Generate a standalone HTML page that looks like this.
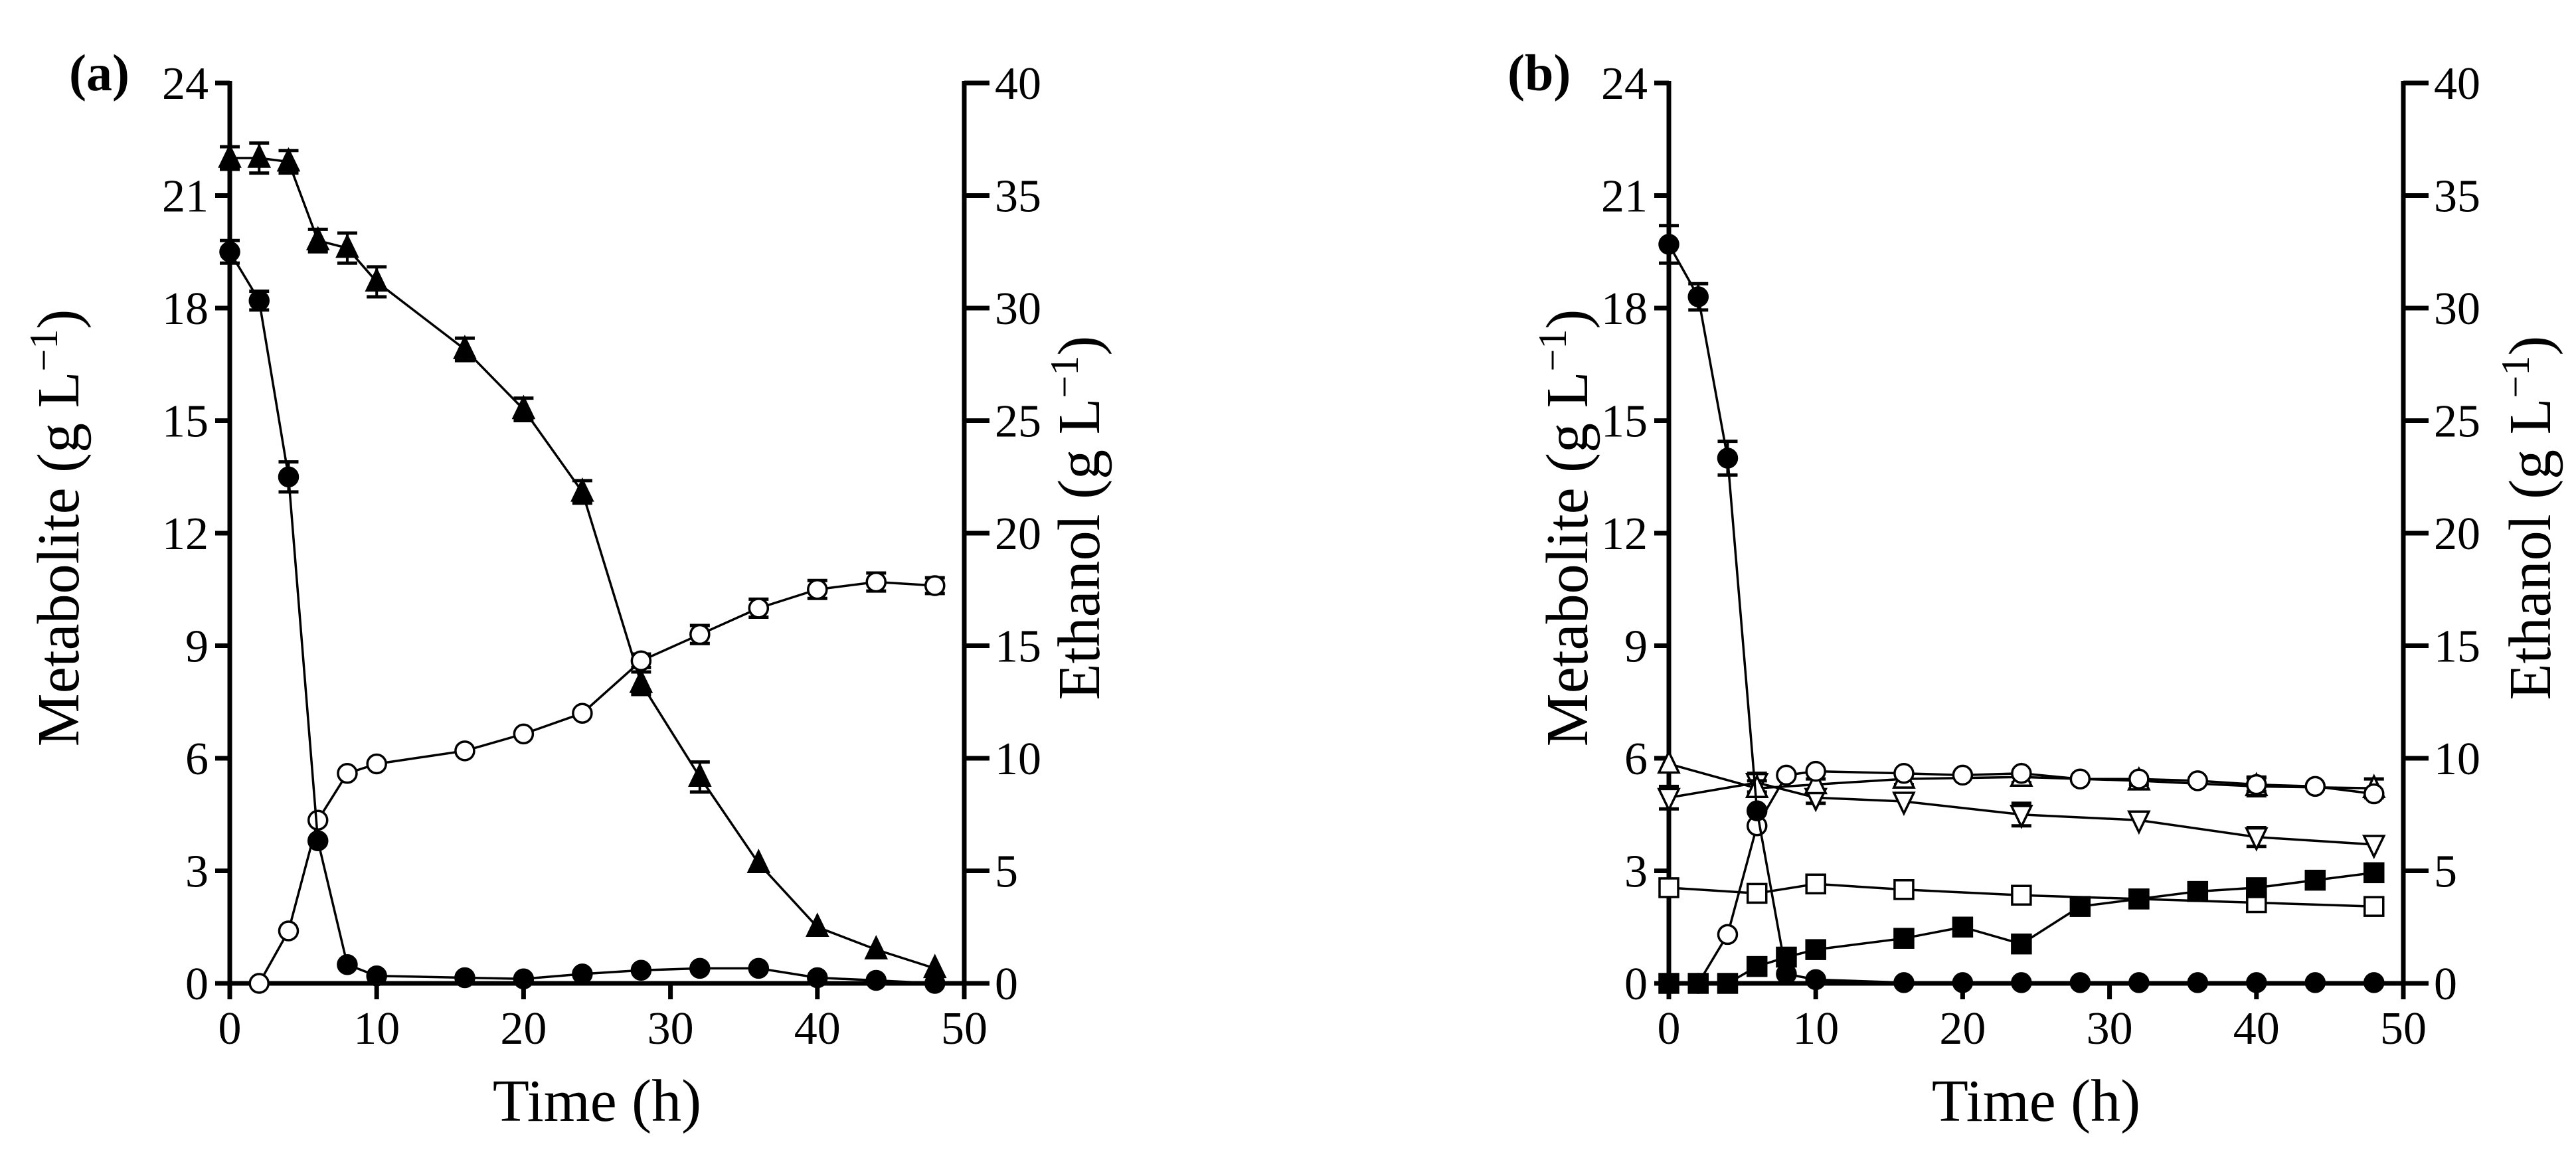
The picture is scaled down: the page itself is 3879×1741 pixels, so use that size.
<!DOCTYPE html>
<html><head><meta charset="utf-8"><style>
html,body{margin:0;padding:0;background:#fff;}
svg{display:block;font-family:"Liberation Serif","Times New Roman",serif;}
</style></head><body>
<svg id="fig" width="3879" height="1741" viewBox="0 0 3879 1741" xmlns="http://www.w3.org/2000/svg">
<g id="pa"></g>
<g id="pb"></g>
</svg>
<script>
const times = [0,2,4,6,8,10,16,20,24,28,32,36,40,44,48];
const leftTicks = [0,3,6,9,12,15,18,21,24];
const rightTicks = [0,5,10,15,20,25,30,35,40];
const xTicks = [0,10,20,30,40,50];
// Panel a (metabolite g/L, left axis)
const aTriT = times;
const aTri = [22.0,22.0,21.9,19.8,19.6,18.7,16.9,15.3,13.1,8.0,5.5,3.2,1.5,0.9,0.4];
const aTriErr = [0.3,0.4,0.3,0.3,0.4,0.4,0.3,0.3,0.3,0.3,0.4,0,0,0,0];
const aDotT = times;
const aDot = [19.5,18.2,13.5,3.8,0.5,0.2,0.15,0.12,0.25,0.35,0.4,0.4,0.15,0.08,0.0];
const aDotErr = [0.3,0.25,0.4,0,0,0,0,0,0,0,0,0,0,0,0];
// Panel a ethanol (g/L, right axis)
const aEthT = [2,4,6,8,10,16,20,24,28,32,36,40,44,48];
const aEth = [0,2.33,7.25,9.33,9.75,10.33,11.08,12.0,14.33,15.5,16.67,17.5,17.83,17.67];
const aEthErr = [0,0,0,0,0,0,0,0,0.3,0.4,0.4,0.4,0.4,0.35];
// Panel b
const bDotT = times;
const bDot = [19.7,18.3,14.0,4.6,0.25,0.1,0.02,0.02,0.02,0.02,0.02,0.02,0.02,0.02,0.02];
const bDotErr = [0.5,0.35,0.45,0,0,0,0,0,0,0,0,0,0,0,0];
const bEthT = [2,4,6,8,10,16,20,24,28,32,36,40,44,48];
const bEth = [0,2.17,7.0,9.25,9.42,9.33,9.25,9.33,9.08,9.08,9.0,8.83,8.75,8.42];
const bEthErr = [0,0,0,0,0,0,0,0,0,0,0,0.3,0,0];
const bUpT = [0,6,10,16,24,32,40,48];
const bUp = [5.85,5.2,5.3,5.45,5.5,5.4,5.25,5.2];
const bUpErr = [0,0.2,0.15,0.15,0.15,0.1,0.25,0.25];
const bDownT = [0,6,10,16,24,32,40,48];
const bDown = [4.95,5.35,4.95,4.85,4.5,4.35,3.9,3.7];
const bDownErr = [0.3,0.25,0.15,0,0.3,0,0.25,0];
const bSqT = [0,6,10,16,24,32,40,48];
const bSq = [2.55,2.4,2.65,2.5,2.35,2.25,2.15,2.05];
const bSqErr = [0,0,0,0,0,0,0,0];
const bFsqT = times;
const bFsq = [0,0,0,0.45,0.7,0.9,1.2,1.5,1.05,2.05,2.25,2.45,2.55,2.75,2.95];
const bFsqErr = [0,0,0,0,0,0,0,0,0,0,0,0,0,0,0];

const NS='http://www.w3.org/2000/svg';
function mk(parent,tag,attrs,text){const e=document.createElementNS(NS,tag);for(const k in attrs)e.setAttribute(k,attrs[k]);if(text!==undefined)e.textContent=text;parent.appendChild(e);return e;}

const Y0=1481, Y1=125, W=1106;
function drawPanel(g,x0,label,labelX,lTitleX,rTitleX,series){
  const xs=t=>x0+t/50*W, yl=v=>Y0-v/24*(Y0-Y1), yr=v=>Y0-v/40*(Y0-Y1);
  const ax=mk(g,'g',{});
  
  
  mk(ax,'line',{x1:x0,y1:Y0,x2:x0+W,y2:Y0,stroke:'#000','stroke-width':7});
  mk(ax,'line',{x1:x0,y1:Y0+3,x2:x0,y2:Y1-3,stroke:'#000','stroke-width':7});
  mk(ax,'line',{x1:x0+W,y1:Y0+3,x2:x0+W,y2:Y1-3,stroke:'#000','stroke-width':7});
  leftTicks.forEach(v=>{const y=yl(v);mk(ax,'line',{x1:x0-22,y1:y,x2:x0,y2:y,stroke:'#000','stroke-width':7});
    const t=mk(ax,'text',{x:x0-32,y:y+24,'font-size':70,'text-anchor':'end'},v);
    
    });
  rightTicks.forEach(v=>{const y=yr(v);mk(ax,'line',{x1:x0+W,y1:y,x2:x0+W+38,y2:y,stroke:'#000','stroke-width':7});
    const t=mk(ax,'text',{x:x0+W+46,y:y+24,'font-size':70},v);
    
    });
  xTicks.forEach(v=>{const x=xs(v);mk(ax,'line',{x1:x,y1:Y0,x2:x,y2:Y0+24,stroke:'#000','stroke-width':7});
    const t=mk(ax,'text',{x:x,y:1572,'font-size':70,'text-anchor':'middle'},v);
    
    });
  const pl=mk(g,'text',{x:labelX,y:136,'font-size':78,'font-weight':'bold'},label);
  
  
  const xt=mk(g,'text',{x:x0+W/2,y:1688,'font-size':90,'text-anchor':'middle'},'Time (h)');
  
  
  const lt=mk(g,'text',{x:0,y:0,'font-size':90,'text-anchor':'middle',transform:`translate(${lTitleX},795) rotate(-90)`});
  lt.innerHTML='Metabolite (g L<tspan dy="-32" font-size="60">−1</tspan><tspan dy="32">)</tspan>';
  
  
  const rt=mk(g,'text',{x:0,y:0,'font-size':90,'text-anchor':'middle',transform:`translate(${rTitleX},780) rotate(-90)`});
  rt.innerHTML='Ethanol (g L<tspan dy="-32" font-size="60">−1</tspan><tspan dy="32">)</tspan>';
  
  
  series.forEach(s=>{
    const sg=mk(g,'g',{});
    
    
    const yf=s.right?yr:yl;
    const pts=s.t.map((t,i)=>xs(t)+','+yf(s.v[i])).join(' ');
    mk(sg,'polyline',{points:pts,fill:'none',stroke:'#000','stroke-width':3.5});
    s.t.forEach((t,i)=>{
      const x=xs(t),y=yf(s.v[i]),e=s.e[i];
      if(e>0){const ya=yf(s.v[i]+e),yb=yf(s.v[i]-e);
        mk(sg,'line',{x1:x,y1:ya,x2:x,y2:yb,stroke:'#000','stroke-width':4});
        mk(sg,'line',{x1:x-15,y1:ya,x2:x+15,y2:ya,stroke:'#000','stroke-width':5});
        mk(sg,'line',{x1:x-15,y1:yb,x2:x+15,y2:yb,stroke:'#000','stroke-width':5});}
      let m;const f=s.fill?'#000':'#fff';
      if(s.shape==='circle') m=mk(sg,'circle',{cx:x,cy:y,r:14,fill:f,stroke:'#000','stroke-width':3.5});
      else if(s.shape==='square') m=mk(sg,'rect',{x:x-14,y:y-14,width:28,height:28,fill:f,stroke:'#000','stroke-width':3.5});
      else if(s.shape==='up') m=mk(sg,'polygon',{points:`${x},${y-18} ${x-15},${y+13} ${x+15},${y+13}`,fill:f,stroke:'#000','stroke-width':3.5});
      else m=mk(sg,'polygon',{points:`${x},${y+18} ${x-15},${y-13} ${x+15},${y-13}`,fill:f,stroke:'#000','stroke-width':3.5});
      
      
    });
  });
}
drawPanel(document.getElementById('pa'),346,'(a)',104,118,1655,[
  {name:'series-filled-triangle',t:aTriT,v:aTri,e:aTriErr,shape:'up',fill:true},
  {name:'series-ethanol-open-circle',t:aEthT,v:aEth,e:aEthErr,shape:'circle',fill:false,right:true},
  {name:'series-filled-circle',t:aDotT,v:aDot,e:aDotErr,shape:'circle',fill:true}
]);
drawPanel(document.getElementById('pb'),2513,'(b)',2270,2390,3840,[
  {name:'series-open-square',t:bSqT,v:bSq,e:bSqErr,shape:'square',fill:false},
  {name:'series-open-triangle-down',t:bDownT,v:bDown,e:bDownErr,shape:'down',fill:false},
  {name:'series-open-triangle-up',t:bUpT,v:bUp,e:bUpErr,shape:'up',fill:false},
  {name:'series-ethanol-open-circle',t:bEthT,v:bEth,e:bEthErr,shape:'circle',fill:false,right:true},
  {name:'series-filled-square',t:bFsqT,v:bFsq,e:bFsqErr,shape:'square',fill:true},
  {name:'series-filled-circle',t:bDotT,v:bDot,e:bDotErr,shape:'circle',fill:true}
]);
</script>
</body></html>
